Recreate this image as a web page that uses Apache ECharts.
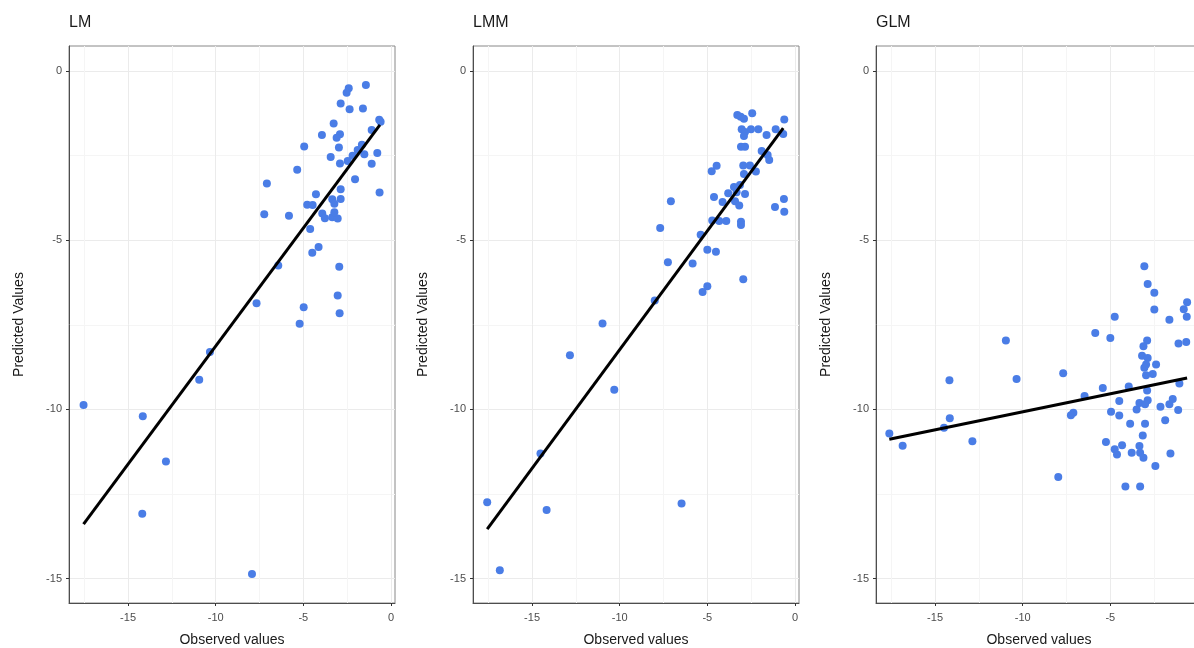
<!DOCTYPE html>
<html>
<head>
<meta charset="utf-8">
<script src="https://cdn.jsdelivr.net/npm/echarts@6/dist/echarts.min.js"></script>
<style>html,body{margin:0;padding:0;background:#fff}#c{width:1194px;height:648px}</style>
</head>
<body>
<div id="c"></div>
<script>
// ---- data ----
const panelTitles = ['LM', 'LMM', 'GLM'];
const xMajorTicks = [-15, -10, -5, 0];
const xMinorTicks = [-17.5, -12.5, -7.5, -2.5];
const yMajorTicks = [-15, -10, -5, 0];
const yMinorTicks = [-12.5, -7.5, -2.5];

const lmObs  = [-1.43,-2.41,-2.53,-2.87,-2.36,-1.60,-0.67,-0.59,-1.10,-3.27,-2.91,-3.10,-3.94,-4.95,-2.97,-1.90,-1.66,-0.78,-1.52,-2.19,-3.44,-2.91,-2.47,-1.10,-5.35,-2.05,-7.08,-0.65,-2.87,-4.28,-2.87,-3.35,-4.78,-4.47,-3.23,-7.23,-5.82,-3.92,-3.77,-3.35,-3.04,-3.23,-4.61,-4.13,-4.49,-6.43,-2.95,-3.04,-7.67,-4.98,-2.93,-5.21,-10.33,-10.94,-17.54,-14.16,-12.84,-14.19,-7.93];
const lmPred = [-0.41,-0.51,-0.64,-0.96,-1.13,-1.11,-1.44,-1.50,-1.74,-1.55,-1.87,-1.97,-1.89,-2.23,-2.26,-2.33,-2.18,-2.42,-2.46,-2.50,-2.54,-2.73,-2.66,-2.74,-2.92,-3.20,-3.32,-3.59,-3.49,-3.64,-3.78,-3.79,-3.95,-3.96,-3.92,-4.23,-4.28,-4.21,-4.35,-4.32,-4.36,-4.17,-4.67,-5.20,-5.37,-5.75,-5.78,-6.63,-6.86,-6.98,-7.16,-7.47,-8.30,-9.12,-9.87,-10.20,-11.54,-13.08,-14.86];
const lmFitX = [-17.54, -0.63];
const lmFitY = [-13.39, -1.59];

const lmmObs  = [-3.29,-3.10,-2.91,-2.44,-0.61,-3.04,-2.85,-2.51,-2.09,-1.62,-1.10,-0.67,-2.91,-3.08,-2.85,-1.90,-1.56,-1.47,-2.95,-2.57,-2.23,-2.91,-4.47,-4.75,-3.48,-3.14,-3.81,-3.33,-2.85,-4.62,-4.13,-3.42,-3.18,-7.08,-1.14,-0.63,-0.61,-4.72,-4.32,-3.92,-3.08,-3.08,-7.69,-5.38,-5.00,-4.51,-7.25,-5.84,-2.95,-5.00,-5.27,-8.00,-10.98,-12.84,-10.31,-14.52,-17.56,-14.17,-6.47,-16.84];
const lmmPred = [-1.30,-1.35,-1.41,-1.25,-1.43,-1.72,-1.80,-1.72,-1.72,-1.89,-1.72,-1.86,-1.92,-2.24,-2.24,-2.36,-2.48,-2.63,-2.79,-2.79,-2.97,-3.04,-2.80,-2.96,-3.43,-3.37,-3.61,-3.58,-3.63,-3.72,-3.87,-3.85,-3.97,-3.85,-4.02,-3.78,-4.16,-4.42,-4.43,-4.43,-4.45,-4.55,-4.64,-4.84,-5.28,-5.34,-5.65,-5.69,-6.15,-6.36,-6.53,-6.78,-7.46,-8.40,-9.42,-11.30,-12.74,-12.97,-12.78,-14.75];
const lmmFitX = [-17.56, -0.67];
const lmmFitY = [-13.54, -1.69];

const glmObs  = [-3.06,-2.87,-2.49,-2.49,-0.62,-0.81,-0.64,-1.63,-4.75,-5.86,-5.00,-10.96,-1.11,-0.67,-2.90,-3.11,-3.19,-2.87,-2.96,-2.39,-3.06,-2.58,-2.96,-7.69,-10.35,-14.18,-5.43,-3.95,-1.06,-6.47,-2.90,-4.49,-2.87,-3.34,-3.50,-3.02,-2.14,-1.44,-1.63,-1.13,-1.87,-4.96,-4.49,-7.11,-7.25,-14.16,-14.49,-17.61,-16.85,-3.87,-3.02,-3.15,-12.87,-5.25,-4.75,-4.62,-4.33,-3.78,-3.34,-3.30,-3.11,-1.57,-2.43,-7.97,-4.14,-3.30];
const glmPred = [-5.77,-6.29,-6.55,-7.05,-6.83,-7.04,-7.26,-7.35,-7.26,-7.74,-7.89,-7.96,-8.05,-8.01,-7.96,-8.13,-8.41,-8.48,-8.67,-8.67,-8.77,-8.95,-8.99,-8.93,-9.10,-9.14,-9.37,-9.32,-9.23,-9.60,-9.44,-9.75,-9.73,-9.81,-10.00,-9.85,-9.92,-9.69,-9.85,-10.02,-10.32,-10.07,-10.18,-10.10,-10.17,-10.26,-10.54,-10.71,-11.07,-10.42,-10.42,-10.77,-10.94,-10.96,-11.18,-11.33,-11.06,-11.28,-11.08,-11.28,-11.43,-11.30,-11.67,-12.00,-12.28,-12.28];
const glmFitX = [-17.61, -0.62];
const glmFitY = [-10.88, -9.07];

// ---- chart ----
const panels = [
  {obs: lmObs, pred: lmPred, fx: lmFitX, fy: lmFitY},
  {obs: lmmObs, pred: lmmPred, fx: lmmFitX, fy: lmmFitY},
  {obs: glmObs, pred: glmPred, fx: glmFitX, fy: glmFitY}
];
const lefts = [69, 473, 876];
const X_MIN = -18.37, X_MAX = 0.23, Y_MIN = -15.72, Y_MAX = 0.74;
const font = '"Liberation Sans", Arial, sans-serif';
const axisDark = '#4d4d4d';

const option = {
  animation: false,
  backgroundColor: '#fff',
  textStyle: {fontFamily: font},
  title: [], grid: [], xAxis: [], yAxis: [], series: []
};

panels.forEach((p, i) => {
  option.title.push({
    text: panelTitles[i], left: lefts[i], top: 15, padding: 0,
    textStyle: {fontSize: 16, fontWeight: 'normal', color: '#1a1a1a', fontFamily: font}
  });
  option.grid.push({
    left: lefts[i], top: 46, width: 326, height: 557,
    outerBoundsMode: 'none', containLabel: false,
    show: true, borderColor: '#888', borderWidth: 1, backgroundColor: 'transparent'
  });
  // major x
  option.xAxis.push({
    type: 'value', gridIndex: i, min: X_MIN, max: X_MAX, position: 'bottom',
    name: 'Observed values', nameLocation: 'middle', nameGap: 30,
    nameTextStyle: {fontSize: 14, color: '#1a1a1a', fontFamily: font},
    axisLine: {show: true, onZero: false, lineStyle: {color: axisDark, width: 1}},
    axisTick: {show: true, length: 3, customValues: xMajorTicks, lineStyle: {color: '#333'}},
    axisLabel: {customValues: xMajorTicks, color: axisDark, fontSize: 11, margin: 9, fontFamily: font},
    splitLine: {show: true, lineStyle: {color: '#ebebeb', width: 1}}
  });
  // minor x
  option.xAxis.push({
    type: 'value', gridIndex: i, min: X_MIN, max: X_MAX, position: 'top',
    axisLine: {show: false}, axisTick: {show: false, customValues: xMinorTicks},
    axisLabel: {show: false, customValues: xMinorTicks},
    splitLine: {show: true, lineStyle: {color: '#f5f5f5', width: 1}}
  });
  // major y
  option.yAxis.push({
    type: 'value', gridIndex: i, min: Y_MIN, max: Y_MAX, position: 'left',
    name: 'Predicted Values', nameLocation: 'middle', nameGap: 43, nameRotate: 90,
    nameTextStyle: {fontSize: 14, color: '#1a1a1a', fontFamily: font},
    axisLine: {show: true, onZero: false, lineStyle: {color: axisDark, width: 1}},
    axisTick: {show: true, length: 3, customValues: yMajorTicks, lineStyle: {color: '#333'}},
    axisLabel: {customValues: yMajorTicks, color: axisDark, fontSize: 11, margin: 7, fontFamily: font},
    splitLine: {show: true, lineStyle: {color: '#ebebeb', width: 1}}
  });
  // minor y
  option.yAxis.push({
    type: 'value', gridIndex: i, min: Y_MIN, max: Y_MAX, position: 'right',
    axisLine: {show: false}, axisTick: {show: false, customValues: yMinorTicks},
    axisLabel: {show: false, customValues: yMinorTicks},
    splitLine: {show: true, lineStyle: {color: '#f5f5f5', width: 1}}
  });
  option.series.push({
    type: 'scatter', xAxisIndex: 2 * i, yAxisIndex: 2 * i,
    data: p.obs.map((x, j) => [x, p.pred[j]]),
    symbol: 'circle', symbolSize: 8,
    itemStyle: {color: '#4a7de6', opacity: 1},
    z: 3
  });
  option.series.push({
    type: 'line', xAxisIndex: 2 * i, yAxisIndex: 2 * i,
    data: p.fx.map((x, j) => [x, p.fy[j]]),
    symbol: 'none', lineStyle: {color: '#000', width: 3}, z: 4
  });
});

const chart = echarts.init(document.getElementById('c'), null, {renderer: 'canvas'});
chart.setOption(option);
</script>
</body>
</html>
